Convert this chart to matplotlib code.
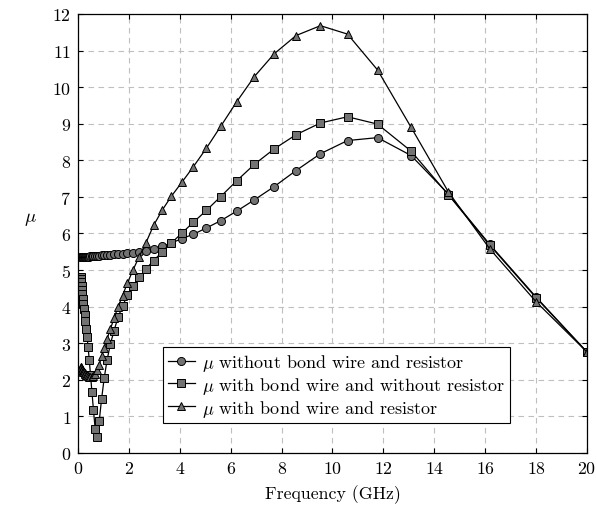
import numpy as np
import matplotlib
matplotlib.use("Agg")
import matplotlib.pyplot as plt

plt.rcParams['font.family'] = 'serif'
plt.rcParams['font.serif'] = ['cmr10', 'DejaVu Serif']
plt.rcParams['mathtext.fontset'] = 'cm'
plt.rcParams['axes.formatter.use_mathtext'] = True

# frequency points (GHz)
freq = [0.100, 0.111, 0.124, 0.137, 0.153, 0.170, 0.189, 0.210, 0.234, 0.260,
        0.289, 0.321, 0.357, 0.397, 0.441, 0.490, 0.545, 0.606, 0.674, 0.749,
        0.833, 0.926, 1.029, 1.144, 1.272, 1.414, 1.572, 1.748, 1.943, 2.161,
        2.402, 2.671, 2.969, 3.301, 3.670, 4.081, 4.537, 5.044, 5.608, 6.235,
        6.931, 7.706, 8.567, 9.525, 10.59, 11.77, 13.09, 14.55, 16.18, 17.99,
        20.0]

# mu without bond wire and resistor
mu_plain = [5.36, 5.36, 5.36, 5.36, 5.36, 5.36, 5.36, 5.36, 5.36, 5.37,
            5.37, 5.37, 5.37, 5.37, 5.37, 5.38, 5.38, 5.38, 5.38, 5.39,
            5.39, 5.40, 5.40, 5.41, 5.42, 5.43, 5.44, 5.45, 5.46, 5.48,
            5.50, 5.53, 5.58, 5.65, 5.74, 5.86, 5.98, 6.15, 6.35, 6.61,
            6.92, 7.28, 7.72, 8.18, 8.54, 8.62, 8.13, 7.08, 5.70, 4.27,
            2.76]

# mu with bond wire, no resistor
mu_wire = [4.80, 4.75, 4.68, 4.57, 4.46, 4.35, 4.21, 4.07, 3.94, 3.77,
           3.62, 3.39, 3.16, 2.89, 2.54, 2.14, 1.68, 1.18, 0.65, 0.43,
           0.87, 1.48, 2.05, 2.55, 2.98, 3.34, 3.71, 4.01, 4.32, 4.57,
           4.80, 5.03, 5.26, 5.49, 5.74, 6.01, 6.31, 6.63, 7.01, 7.44,
           7.89, 8.31, 8.70, 9.02, 9.19, 8.99, 8.25, 7.06, 5.68, 4.25,
           2.76]

# mu with bond wire and resistor
mu_wire_res = [2.36, 2.34, 2.32, 2.30, 2.28, 2.26, 2.24, 2.22, 2.20, 2.18,
               2.16, 2.14, 2.12, 2.10, 2.09, 2.08, 2.07, 2.10, 2.17, 2.27,
               2.40, 2.64, 2.88, 3.12, 3.39, 3.68, 3.99, 4.30, 4.65, 5.00,
               5.37, 5.75, 6.22, 6.63, 7.02, 7.40, 7.83, 8.33, 8.93, 9.60,
               10.29, 10.91, 11.41, 11.68, 11.45, 10.47, 8.90, 7.14, 5.58, 4.14,
               2.76]

labels = [r'$\mu$ without bond wire and resistor',
          r'$\mu$ with bond wire and without resistor',
          r'$\mu$ with bond wire and resistor']

fig = plt.figure(figsize=(5.97, 5.06), dpi=100)
ax = fig.add_axes([0.1307, 0.1028, 0.8525, 0.8676])

fill = '#727272'
style = dict(color='black', lw=0.9, markerfacecolor=fill,
             markeredgecolor='black', markeredgewidth=0.7)
ax.plot(freq, mu_plain, marker='o', markersize=5.8, label=labels[0], **style)
ax.plot(freq, mu_wire, marker='s', markersize=5.6, label=labels[1], **style)
ax.plot(freq, mu_wire_res, marker='^', markersize=6.2, label=labels[2], **style)

ax.set_xlim(0, 20)
ax.set_ylim(0, 12)
ax.set_xticks(np.arange(0, 21, 2))
ax.set_yticks(np.arange(0, 13, 1))
ax.grid(True, color='#bfbfbf', linestyle=(0, (5, 4)), linewidth=0.8)
ax.set_axisbelow(True)
ax.tick_params(direction='in', top=True, right=True, length=3.5,
               labelsize=12.8, pad=5)
for s in ax.spines.values():
    s.set_linewidth(0.9)

ax.set_xlabel('Frequency (GHz)', fontsize=12.8, labelpad=6)
ax.set_ylabel(r'$\mu$', fontsize=13.5, rotation=0)
ax.yaxis.set_label_coords(-0.094, 0.515)

leg = ax.legend(loc='lower left', bbox_to_anchor=(0.167, 0.068),
                fontsize=13, frameon=True, fancybox=False,
                handlelength=1.5, handletextpad=0.4, borderpad=0.25,
                labelspacing=0.1, borderaxespad=0)
leg.get_frame().set_edgecolor('black')
leg.get_frame().set_linewidth(0.8)
leg.get_frame().set_alpha(1)

fig.savefig('out.png', dpi=100)
